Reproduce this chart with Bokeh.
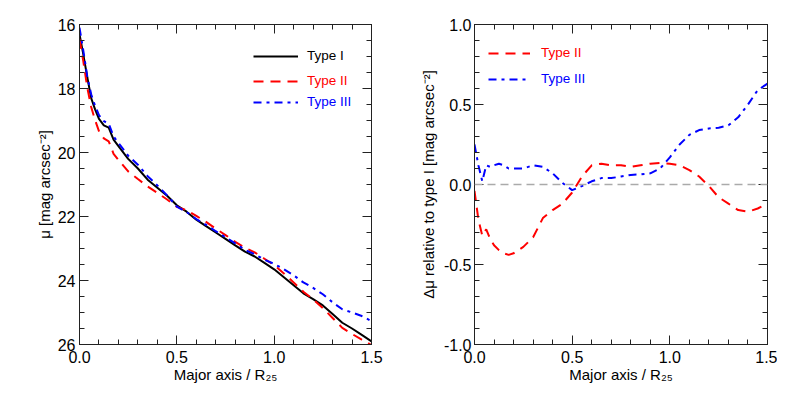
from bokeh.plotting import figure
from bokeh.layouts import row
from bokeh.models import (Range1d, FixedTicker, LinearAxis, Legend, LegendItem,
                          NumeralTickFormatter, Span)
from bokeh.embed import file_html
from bokeh.resources import INLINE

# ---- data ----
radius = [0, 0.02, 0.04, 0.06, 0.08, 0.10, 0.125, 0.15, 0.175, 0.2, 0.25, 0.3, 0.35, 0.4,
          0.45, 0.5, 0.55, 0.6, 0.65, 0.7, 0.75, 0.8, 0.85, 0.9, 0.95, 1.0, 1.05, 1.1,
          1.15, 1.2, 1.25, 1.3, 1.35, 1.4, 1.45, 1.5]

mu_type1 = [16.3, 16.95, 17.65, 18.3, 18.65, 18.95, 19.15, 19.22, 19.6, 19.8, 20.2, 20.5,
            20.85, 21.1, 21.35, 21.65, 21.85, 22.1, 22.3, 22.5, 22.7, 22.9, 23.1, 23.25,
            23.45, 23.65, 23.9, 24.15, 24.4, 24.58, 24.78, 25.05, 25.32, 25.5, 25.7, 25.9]

mu_type2 = [16.45, 17.17, 17.97, 18.58, 18.99, 19.33, 19.56, 19.65, 20.04, 20.23, 20.59,
            20.83, 21.06, 21.26, 21.47, 21.70, 21.80, 21.98, 22.17, 22.38, 22.58, 22.79,
            22.98, 23.12, 23.32, 23.52, 23.78, 24.06, 24.35, 24.59, 24.86, 25.17, 25.48,
            25.67, 25.85, 26.02]

mu_type3 = [16.1, 16.83, 17.63, 18.18, 18.54, 18.83, 19.02, 19.10, 19.50, 19.70, 20.10,
            20.38, 20.74, 21.03, 21.34, 21.69, 21.86, 22.08, 22.26, 22.46, 22.65, 22.84,
            23.04, 23.18, 23.35, 23.48, 23.65, 23.84, 24.06, 24.23, 24.43, 24.68, 24.90,
            25.0, 25.11, 25.27]

dmu_type2 = [-0.04, -0.22, -0.32, -0.28, -0.34, -0.38, -0.41, -0.43, -0.44, -0.43, -0.39,
             -0.33, -0.21, -0.16, -0.12, -0.05, 0.05, 0.12, 0.13, 0.12, 0.12, 0.11, 0.12,
             0.13, 0.135, 0.13, 0.12, 0.09, 0.05, -0.01, -0.08, -0.12, -0.16, -0.17,
             -0.15, -0.12]

dmu_type3 = [0.25, 0.12, 0.02, 0.12, 0.11, 0.12, 0.13, 0.12, 0.10, 0.10, 0.10, 0.12, 0.11,
             0.07, 0.01, -0.035, -0.01, 0.02, 0.04, 0.04, 0.05, 0.06, 0.063, 0.07, 0.10,
             0.17, 0.25, 0.31, 0.34, 0.35, 0.355, 0.37, 0.42, 0.50, 0.59, 0.63]

x_ticks = [0.0, 0.5, 1.0, 1.5]
x_minor = [round(0.1 * i, 1) for i in range(16)]
left_y_ticks = [16, 18, 20, 22, 24, 26]
left_y_minor = [16 + 0.5 * i for i in range(21)]
right_y_ticks = [-1.0, -0.5, 0.0, 0.5, 1.0]
right_y_minor = [round(-1 + 0.1 * i, 1) for i in range(21)]

FONT = "Liberation Sans"
RED = "#ff0000"
BLUE = "#0000ff"
DASH = "10 7"
DASHDOT = "8 5 3 5"


def style_axis(ax, ticks, minor, fmt, show_labels=True, standoff=4):
    ax.ticker = FixedTicker(ticks=ticks, minor_ticks=minor)
    ax.formatter = NumeralTickFormatter(format=fmt)
    ax.major_tick_in = 9
    ax.major_tick_out = 0
    ax.minor_tick_in = 5
    ax.minor_tick_out = 0
    ax.axis_line_color = "#222222"
    ax.major_tick_line_color = "#222222"
    ax.minor_tick_line_color = "#222222"
    ax.major_label_text_font = FONT
    ax.major_label_text_color = "black"
    ax.major_label_text_font_size = "16px"
    ax.axis_label_text_font = FONT
    ax.axis_label_text_font_style = "normal"
    ax.axis_label_text_font_size = "15px"
    ax.axis_label_text_color = "black"
    if show_labels:
        ax.major_label_standoff = standoff
    else:
        ax.major_label_overrides = {t: "" for t in ticks}
        ax.major_label_standoff = 0


def make_fig(width, border_left, border_right, yr, yticks, yminor, yfmt, ylabel,
             ystandoff, ylabel_standoff):
    p = figure(width=width, height=387, x_range=Range1d(0, 1.5), y_range=yr,
               output_backend="svg", toolbar_location=None,
               min_border_left=border_left, min_border_right=border_right,
               min_border_top=24, min_border_bottom=43)
    p.grid.visible = False
    p.outline_line_color = "#222222"
    style_axis(p.xaxis[0], x_ticks, x_minor, "0.0", standoff=6)
    p.xaxis[0].axis_label = "Major axis / R\u2082\u2085"
    p.xaxis[0].axis_label_standoff = 0
    style_axis(p.yaxis[0], yticks, yminor, yfmt, standoff=ystandoff)
    p.yaxis[0].axis_label = ylabel
    p.yaxis[0].axis_label_standoff = ylabel_standoff
    top = LinearAxis()
    style_axis(top, x_ticks, x_minor, "0.0", show_labels=False)
    p.add_layout(top, "above")
    right = LinearAxis()
    style_axis(right, yticks, yminor, yfmt, show_labels=False)
    p.add_layout(right, "right")
    return p


def add_legend(p, renderer, label, color, loc, gw, gap):
    leg = Legend(items=[LegendItem(label=label, renderers=[renderer])], location=loc,
                 glyph_width=gw, glyph_height=14, label_height=14, label_standoff=gap,
                 padding=0, margin=0, spacing=0, border_line_color=None,
                 background_fill_alpha=0, label_text_font=FONT,
                 label_text_font_size="13.5px", label_text_color=color)
    p.add_layout(leg)


# ---- left panel ----
p1 = make_fig(395, 79, 24, Range1d(26, 16), left_y_ticks, left_y_minor, "0",
              "\u03bc [mag arcsec\u207b\u00b2]", 4, 2)
r1 = p1.line(radius, mu_type1, line_color="black", line_width=2)
r2 = p1.line(radius, mu_type2, line_color=RED, line_width=2, line_dash=DASH)
r3 = p1.line(radius, mu_type3, line_color=BLUE, line_width=2, line_dash=DASHDOT)
add_legend(p1, r1, "Type I", "black", (174, 281), 45, 9)
add_legend(p1, r2, "Type II", RED, (174, 256), 45, 9)
add_legend(p1, r3, "Type III", BLUE, (174, 235), 45, 9)

# ---- right panel ----
p2 = make_fig(382, 79, 10, Range1d(-1, 1), right_y_ticks, right_y_minor, "0.0",
              "\u0394\u03bc relative to type I [mag arcsec\u207b\u00b2]", 3, 4)
p2.add_layout(Span(location=0, dimension="width", line_color="#aaaaaa",
                   line_width=1.5, line_dash="8 5"))
q2 = p2.line(radius, dmu_type2, line_color=RED, line_width=2, line_dash=DASH)
q3 = p2.line(radius, dmu_type3, line_color=BLUE, line_width=2, line_dash=DASHDOT)
add_legend(p2, q2, "Type II", RED, (14, 284), 42, 11)
add_legend(p2, q3, "Type III", BLUE, (14, 258), 42, 11)

layout = row(p1, p2)
open("out.html", "w").write(file_html(layout, INLINE))
